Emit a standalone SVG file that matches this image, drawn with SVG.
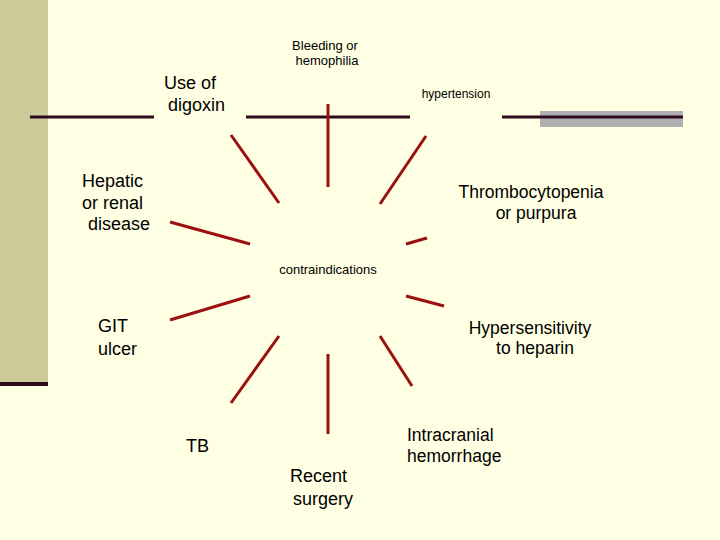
<svg xmlns="http://www.w3.org/2000/svg" width="720" height="540" viewBox="0 0 720 540">
<style>
text{font-family:"Liberation Sans",Arial,sans-serif;fill:#000}
.s{font-size:13px}.m{font-size:18px}.x{font-size:12px}.l{font-size:17.5px}
.r{stroke:#9B1010;stroke-width:3;fill:none}
.h{stroke:#2E0A1E;stroke-width:3}
</style>
<rect width="720" height="540" fill="#FFFFE3"/>
<rect x="0" y="0" width="48" height="382" fill="#CBCB9A"/>
<rect x="0" y="382" width="48" height="4" fill="#2E0A1E"/>
<rect x="540" y="111" width="143" height="16" fill="#B0B0B0"/>
<g id="connectors">
<line class="h" x1="30" y1="117" x2="154" y2="117"/>
<line class="h" x1="246" y1="117" x2="410" y2="117"/>
<line class="h" x1="502" y1="117" x2="683" y2="117"/>
<line class="r" x1="328" y1="104" x2="328" y2="187"/>
<line class="r" x1="231" y1="135" x2="279" y2="203"/>
<line class="r" x1="426" y1="136" x2="380" y2="204"/>
<line class="r" x1="170" y1="222" x2="250" y2="244"/>
<line class="r" x1="406" y1="244" x2="427" y2="238"/>
<line class="r" x1="170" y1="320" x2="250" y2="296"/>
<line class="r" x1="406" y1="296" x2="444" y2="306"/>
<line class="r" x1="231" y1="403" x2="279" y2="336"/>
<line class="r" x1="328" y1="354" x2="328" y2="434"/>
<line class="r" x1="380" y1="336" x2="412" y2="386"/>
</g>
<g id="center"><text class="s" x="328" y="274" text-anchor="middle">contraindications</text></g>
<g id="bleeding"><text class="s" x="325" y="50" text-anchor="middle">Bleeding or</text><text class="s" x="327" y="65" text-anchor="middle">hemophilia</text></g>
<g id="digoxin"><text class="m" x="164" y="89">Use of</text><text class="m" x="168" y="111">digoxin</text></g>
<g id="hypertension"><text class="x" x="456" y="98" text-anchor="middle">hypertension</text></g>
<g id="hepatic"><text class="m" x="82" y="187">Hepatic</text><text class="m" x="82" y="209">or renal</text><text class="m" x="88" y="230">disease</text></g>
<g id="thrombo"><text class="l" x="531" y="198" text-anchor="middle">Thrombocytopenia</text><text class="l" x="536" y="219" text-anchor="middle">or purpura</text></g>
<g id="git"><text class="m" x="98" y="332">GIT</text><text class="m" x="98" y="355">ulcer</text></g>
<g id="hyper"><text class="l" x="530" y="334" text-anchor="middle">Hypersensitivity</text><text class="l" x="535" y="354" text-anchor="middle">to heparin</text></g>
<g id="tb"><text class="m" x="186" y="452">TB</text></g>
<g id="intracranial"><text class="l" x="407" y="441">Intracranial</text><text class="l" x="407" y="462">hemorrhage</text></g>
<g id="surgery"><text class="m" x="290" y="482">Recent</text><text class="m" x="293" y="505">surgery</text></g>
</svg>
